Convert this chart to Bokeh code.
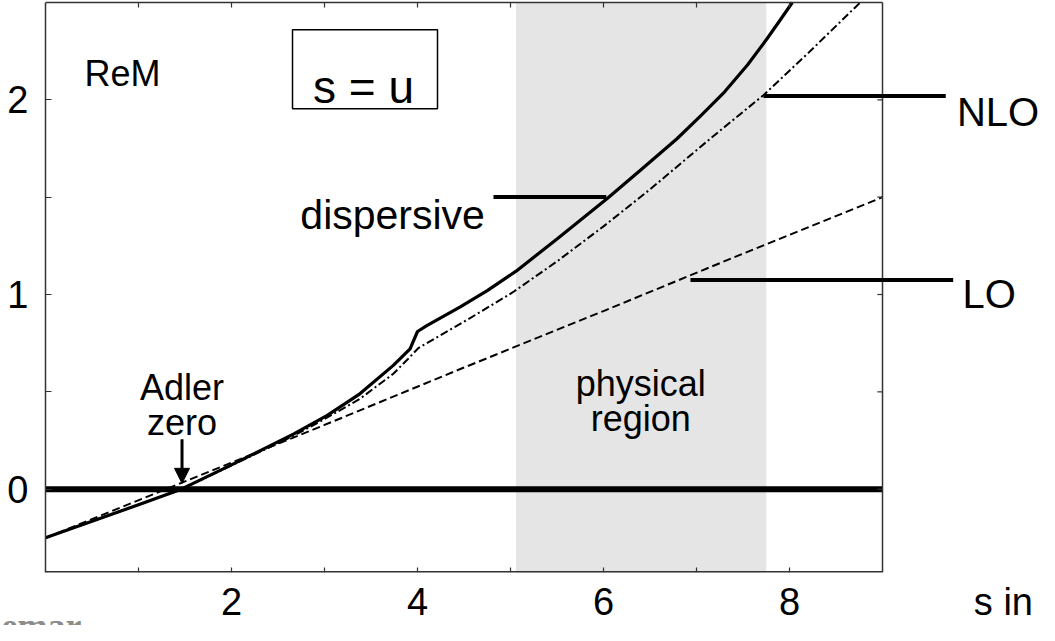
from bokeh.plotting import figure
from bokeh.models import Range1d, FixedTicker, Title, Arrow, NormalHead
from bokeh.core.properties import value
from bokeh.embed import file_html
from bokeh.resources import INLINE

# ---------------- data ----------------
X_MIN, X_MAX = 0.0, 9.0
Y_MIN, Y_MAX = -0.5, 2.5
Y_VIEW_MIN = -0.428          # lower edge of the visible frame
x_major = [2, 4, 6, 8]
x_all_ticks = [1, 2, 3, 4, 5, 6, 7, 8]
y_major = [0, 1, 2]
y_minor = [0.5, 1.5]
y_all_ticks = [0, 0.5, 1, 1.5, 2]
x_unit_label = "s in"
x_unit_pos = 10.3

# physical region (shaded band)
phys_lo, phys_hi = 5.06, 7.75

# LO (dashed)
lo_x = [0, 1.5, 3.0, 4.5, 6.0, 7.5, 9.0]
lo_y = [-0.25, 0.04, 0.33, 0.625, 0.915, 1.21, 1.50]

# NLO (dash-dot)
nlo_x = [0, 0.5, 1.0, 1.46, 2.0, 2.67, 3.0, 3.38, 3.74, 3.9, 4.01, 4.3, 4.64,
         5.03, 5.5, 6.0, 6.5, 7.146, 7.72, 8.2, 8.76]
nlo_y = [-0.25, -0.165, -0.08, 0.0, 0.122, 0.275, 0.36, 0.464, 0.593, 0.67, 0.725,
         0.805, 0.90, 1.013, 1.17, 1.35, 1.54, 1.80, 2.024, 2.24, 2.5]

# dispersive (solid)
disp_x = [0, 0.5, 1.0, 1.46, 2.0, 2.67, 3.03, 3.38, 3.74, 3.92, 4.0, 4.1, 4.46,
          4.75, 5.06, 5.5, 6.04, 6.4, 6.79, 7.05, 7.3, 7.55, 7.76, 7.9, 8.03]
disp_y = [-0.25, -0.165, -0.08, 0.0, 0.125, 0.284, 0.379, 0.49, 0.636, 0.721, 0.81,
          0.84, 0.936, 1.02, 1.12, 1.285, 1.493, 1.64, 1.80, 1.92, 2.04, 2.18,
          2.315, 2.41, 2.5]

adler_zero = 1.468

# ---------------- figure ----------------
FONT = "Liberation Sans"
p = figure(width=1039, height=625,
           x_range=Range1d(0, 10.688), y_range=Range1d(Y_VIEW_MIN, 2.5103),
           output_backend="svg", toolbar_location=None,
           min_border_left=45, min_border_right=0, min_border_top=0,
           min_border_bottom=10)
p.grid.visible = False
p.outline_line_color = None
p.background_fill_color = "white"
p.border_fill_color = "white"

AX = "#333333"
# bottom axis: tick labels (incl. the unit text at the right end)
p.xaxis.ticker = FixedTicker(ticks=x_major + [x_unit_pos], minor_ticks=[])
p.xaxis.major_label_overrides = {x_unit_pos: x_unit_label}
p.xaxis.axis_line_color = None
p.xaxis.major_tick_line_color = None
p.xaxis.minor_tick_line_color = None
p.xaxis.major_tick_out = 0
p.xaxis.major_tick_in = 0
p.xaxis.minor_tick_out = 0
p.xaxis.minor_tick_in = 0
p.xaxis.major_label_standoff = 8

# left axis
p.yaxis.ticker = FixedTicker(ticks=y_major, minor_ticks=y_minor)
p.yaxis.bounds = (Y_VIEW_MIN, Y_MAX)
p.yaxis.axis_line_color = AX
p.yaxis.axis_line_width = 1.5
p.yaxis.major_tick_line_color = AX
p.yaxis.minor_tick_line_color = AX
p.yaxis.major_tick_line_width = 1.2
p.yaxis.minor_tick_line_width = 1.2
p.yaxis.major_tick_out = 0
p.yaxis.minor_tick_out = 0
p.yaxis.major_tick_in = 6
p.yaxis.minor_tick_in = 6
p.yaxis.major_label_standoff = 17

for ax in (p.xaxis, p.yaxis):
    ax.major_label_text_font = FONT
    ax.major_label_text_font_size = "38px"
    ax.major_label_text_color = "black"

# shaded physical region
p.quad(left=[phys_lo], right=[phys_hi], bottom=[Y_MIN], top=[Y_MAX],
       fill_color="#e5e5e5", line_color=None)

# zero line
p.line([X_MIN, X_MAX], [0, 0], line_color="black", line_width=6)

# curves
p.line(lo_x, lo_y, line_color="black", line_width=2.0, line_dash="8 4")
p.line(nlo_x, nlo_y, line_color="black", line_width=2.0, line_dash="8 3 2 3")
p.line(disp_x, disp_y, line_color="black", line_width=3.2, line_join="round")

# frame (bottom, top, right edges) + ticks
p.segment(x0=[X_MIN], y0=[Y_VIEW_MIN], x1=[X_MAX], y1=[Y_VIEW_MIN],
          line_color=AX, line_width=3)
p.segment(x0=[X_MIN, X_MAX], y0=[Y_MAX, Y_VIEW_MIN], x1=[X_MAX, X_MAX],
          y1=[Y_MAX, Y_MAX], line_color=AX, line_width=1.5)
p.segment(x0=x_all_ticks, y0=[Y_MAX] * len(x_all_ticks), x1=x_all_ticks,
          y1=[Y_MAX - 0.026] * len(x_all_ticks), line_color=AX, line_width=1.2)
p.segment(x0=x_all_ticks, y0=[Y_VIEW_MIN] * len(x_all_ticks), x1=x_all_ticks,
          y1=[Y_VIEW_MIN + 0.026] * len(x_all_ticks), line_color=AX, line_width=1.2)
p.segment(x0=[X_MAX] * len(y_all_ticks), y0=y_all_ticks,
          x1=[X_MAX - 0.055] * len(y_all_ticks), y1=y_all_ticks,
          line_color=AX, line_width=1.2)

# leader lines
p.segment(x0=[4.817, 7.72, 6.935], y0=[1.501, 2.02, 1.075],
          x1=[6.03, 9.68, 9.76], y1=[1.501, 2.02, 1.075],
          line_color="black", line_width=4)

# s = u box
p.quad(left=[2.656], right=[4.215], bottom=[1.954], top=[2.36],
       fill_color="white", line_color="black", line_width=1.5)
p.text(x=[3.42], y=[2.067], text=["s = u"], text_font=value(FONT),
       text_font_size="46px", text_align="center", text_baseline="alphabetic",
       text_color="black")

# texts
p.text(x=[0.42], y=[2.134], text=["ReM"], text_font=value(FONT),
       text_font_size="36px", text_align="left", text_baseline="alphabetic")
p.text(x=[2.74], y=[1.409], text=["dispersive"], text_font=value(FONT),
       text_font_size="41px", text_align="left", text_baseline="alphabetic")
p.text(x=[9.80, 9.86], y=[1.935, 1.004], text=["NLO", "LO"], text_font=value(FONT),
       text_font_size="40px", text_align="left", text_baseline="alphabetic")
p.text(x=[6.40, 6.40], y=[0.541, 0.365], text=["physical", "region"],
       text_font=value(FONT), text_font_size="36px", text_align="center",
       text_baseline="alphabetic")
p.text(x=[adler_zero, adler_zero], y=[0.524, 0.344], text=["Adler", "zero"],
       text_font=value(FONT), text_font_size="36px", text_align="center",
       text_baseline="alphabetic")

# Adler zero arrow
p.add_layout(Arrow(end=NormalHead(size=15, fill_color="black", line_color="black"),
                   x_start=adler_zero, y_start=0.257, x_end=adler_zero, y_end=0.03,
                   line_color="black", line_width=3))

# watermark fragment at the bottom-left edge
p.add_layout(Title(text="semar", text_font="Liberation Serif", text_font_size="36px",
                   text_font_style="bold", text_color="#8c8c8c", align="left",
                   vertical_align="middle", offset=-58, standoff=-42), "below")

open("out.html", "w").write(file_html(p, INLINE))
